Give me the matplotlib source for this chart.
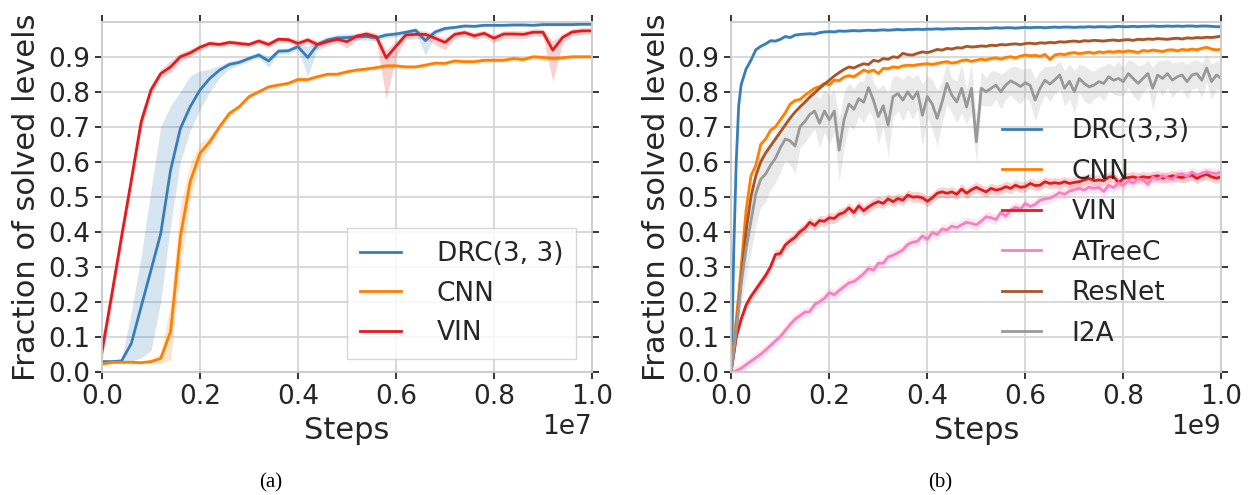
import matplotlib
matplotlib.use("Agg")
import matplotlib.pyplot as plt
import numpy as np

# ---------------- panel (a): steps in units of 1e7 ----------------
steps_a = np.round(np.arange(0, 1.0001, 0.02), 2)

drc_a = [0.029, 0.029, 0.031, 0.081, 0.186, 0.29, 0.395, 0.576, 0.695, 0.757,
         0.805, 0.838, 0.862, 0.878, 0.884, 0.895, 0.905, 0.888, 0.916, 0.917,
         0.929, 0.898, 0.935, 0.948, 0.954, 0.955, 0.957, 0.958, 0.954, 0.962,
         0.965, 0.97, 0.976, 0.946, 0.971, 0.981, 0.984, 0.988, 0.987, 0.99,
         0.99, 0.99, 0.991, 0.991, 0.99, 0.992, 0.992, 0.992, 0.992, 0.993, 0.993]
drc_a_lo = [0.025, 0.025, 0.027, 0.03, 0.04, 0.06, 0.2, 0.42, 0.6, 0.69,
            0.75, 0.8, 0.84, 0.866, 0.876, 0.887, 0.897, 0.87, 0.908, 0.909,
            0.92, 0.845, 0.925, 0.94, 0.944, 0.945, 0.947, 0.948, 0.944, 0.954,
            0.957, 0.962, 0.968, 0.905, 0.962, 0.975, 0.979, 0.983, 0.982, 0.986,
            0.986, 0.986, 0.987, 0.987, 0.986, 0.988, 0.988, 0.988, 0.988, 0.989, 0.989]
drc_a_hi = [0.033, 0.033, 0.035, 0.17, 0.33, 0.52, 0.70, 0.76, 0.80, 0.845,
            0.86, 0.865, 0.875, 0.888, 0.892, 0.903, 0.913, 0.9, 0.924, 0.925,
            0.937, 0.93, 0.945, 0.957, 0.964, 0.965, 0.967, 0.968, 0.964, 0.97,
            0.972, 0.977, 0.982, 0.965, 0.978, 0.986, 0.988, 0.992, 0.991, 0.994,
            0.994, 0.994, 0.995, 0.995, 0.994, 0.996, 0.996, 0.996, 0.996, 0.997, 0.997]

cnn_a = [0.022, 0.027, 0.027, 0.027, 0.026, 0.029, 0.038, 0.114, 0.386, 0.543,
         0.624, 0.657, 0.70, 0.738, 0.757, 0.786, 0.80, 0.814, 0.819, 0.824,
         0.835, 0.835, 0.843, 0.85, 0.85, 0.857, 0.862, 0.865, 0.869, 0.874,
         0.874, 0.871, 0.871, 0.876, 0.882, 0.881, 0.888, 0.886, 0.886, 0.89,
         0.89, 0.89, 0.895, 0.892, 0.9, 0.898, 0.895, 0.897, 0.9, 0.9, 0.9]
cnn_a_spread = [0.004, 0.004, 0.004, 0.004, 0.004, 0.006, 0.015, 0.08, 0.09, 0.05,
                0.03, 0.015, 0.01, 0.01, 0.006, 0.006, 0.006, 0.006, 0.006, 0.006,
                0.006, 0.006, 0.006, 0.006, 0.006, 0.006, 0.006, 0.006, 0.006, 0.006,
                0.006, 0.006, 0.006, 0.006, 0.006, 0.006, 0.006, 0.006, 0.006, 0.006,
                0.006, 0.006, 0.006, 0.006, 0.006, 0.009, 0.006, 0.006, 0.006, 0.006, 0.006]

vin_a = [0.057, 0.22, 0.386, 0.548, 0.714, 0.805, 0.852, 0.871, 0.90, 0.911,
         0.927, 0.938, 0.935, 0.941, 0.938, 0.935, 0.945, 0.935, 0.95, 0.949,
         0.938, 0.948, 0.935, 0.943, 0.95, 0.943, 0.959, 0.965, 0.957, 0.897,
         0.93, 0.962, 0.964, 0.964, 0.953, 0.941, 0.964, 0.969, 0.96, 0.967,
         0.953, 0.965, 0.965, 0.964, 0.97, 0.97, 0.919, 0.955, 0.971, 0.974, 0.974]
vin_a_lo = [0.03, 0.19, 0.36, 0.52, 0.69, 0.79, 0.84, 0.855, 0.888, 0.9,
            0.918, 0.93, 0.927, 0.932, 0.93, 0.927, 0.937, 0.925, 0.942, 0.94,
            0.928, 0.938, 0.92, 0.932, 0.94, 0.925, 0.948, 0.955, 0.945, 0.78,
            0.9, 0.95, 0.952, 0.952, 0.935, 0.92, 0.952, 0.958, 0.95, 0.956,
            0.94, 0.953, 0.953, 0.952, 0.96, 0.958, 0.83, 0.94, 0.96, 0.965, 0.965]
vin_a_hi = [0.09, 0.25, 0.41, 0.575, 0.74, 0.82, 0.865, 0.888, 0.912, 0.922,
            0.936, 0.946, 0.943, 0.949, 0.946, 0.943, 0.953, 0.945, 0.958, 0.957,
            0.948, 0.957, 0.945, 0.952, 0.958, 0.953, 0.968, 0.974, 0.967, 0.92,
            0.945, 0.972, 0.974, 0.974, 0.963, 0.955, 0.974, 0.978, 0.97, 0.976,
            0.963, 0.975, 0.975, 0.974, 0.98, 0.98, 0.945, 0.967, 0.98, 0.983, 0.983]

# ---------------- panel (b): steps in units of 1e9 ----------------
steps_b = np.round(np.concatenate([[0, 0.005, 0.01, 0.015],
                                   np.arange(0.02, 1.0001, 0.01)]), 3)

drc_b = [0.0, 0.35, 0.6, 0.76, 0.82, 0.865, 0.89, 0.92, 0.93, 0.937,
         0.946, 0.945, 0.95, 0.958, 0.955, 0.962, 0.964, 0.965, 0.966, 0.965,
         0.969, 0.971, 0.972, 0.971, 0.974, 0.973, 0.974,
         0.975, 0.974, 0.975, 0.976, 0.975, 0.976, 0.977, 0.976, 0.977, 0.978,
         0.977, 0.978, 0.978, 0.979, 0.978, 0.979, 0.979, 0.980, 0.979, 0.980,
         0.980, 0.981, 0.980, 0.981, 0.981, 0.981,
         0.982, 0.981, 0.982, 0.983, 0.982, 0.983, 0.983, 0.982, 0.983, 0.984,
         0.983, 0.984, 0.984, 0.983, 0.984, 0.985, 0.984, 0.985, 0.985, 0.984,
         0.985, 0.985, 0.986, 0.985, 0.986, 0.986, 0.985, 0.986, 0.987, 0.986,
         0.986, 0.987, 0.986, 0.987, 0.987, 0.988, 0.987, 0.987, 0.988, 0.987,
         0.988, 0.987, 0.988, 0.988, 0.987, 0.988, 0.988, 0.987, 0.986, 0.986]

cnn_b = [0.005, 0.08, 0.15, 0.22, 0.30, 0.46, 0.56, 0.59, 0.65, 0.665,
         0.69, 0.70, 0.72, 0.74, 0.765, 0.775, 0.778, 0.79, 0.80, 0.81,
         0.815, 0.824, 0.82, 0.833, 0.832, 0.842, 0.846,
         0.843, 0.852, 0.862, 0.857, 0.862, 0.852, 0.867, 0.866, 0.871, 0.869,
         0.874, 0.876, 0.875, 0.877, 0.879, 0.88, 0.878, 0.881, 0.884, 0.886,
         0.882, 0.884, 0.889, 0.891, 0.887, 0.89,
         0.893, 0.891, 0.895, 0.897, 0.893, 0.898, 0.90, 0.897, 0.902, 0.905,
         0.903, 0.904, 0.901, 0.907, 0.892, 0.905, 0.908, 0.906, 0.91, 0.912,
         0.909, 0.911, 0.913, 0.91, 0.914, 0.912, 0.915, 0.913, 0.916, 0.914,
         0.917, 0.915, 0.912, 0.918, 0.916, 0.919, 0.917, 0.915, 0.919, 0.92,
         0.917, 0.921, 0.919, 0.922, 0.92, 0.924, 0.927, 0.922, 0.92, 0.921]

vin_b = [0.005, 0.05, 0.1, 0.125, 0.15, 0.19, 0.215, 0.235, 0.255, 0.275,
         0.30, 0.335, 0.338, 0.362, 0.374, 0.384, 0.40, 0.41, 0.427, 0.418,
         0.432, 0.43, 0.44, 0.438, 0.45, 0.455, 0.468,
         0.455, 0.474, 0.46, 0.471, 0.48, 0.486, 0.481, 0.494, 0.486, 0.495,
         0.49, 0.505, 0.499, 0.50, 0.497, 0.487, 0.497, 0.51, 0.514, 0.51,
         0.514, 0.507, 0.522, 0.51, 0.52, 0.527,
         0.52, 0.514, 0.524, 0.519, 0.522, 0.529, 0.524, 0.533, 0.527, 0.529,
         0.538, 0.532, 0.533, 0.543, 0.538, 0.54, 0.538, 0.543, 0.538, 0.541,
         0.543, 0.548, 0.552, 0.546, 0.548, 0.546, 0.556, 0.558, 0.54, 0.552,
         0.555, 0.557, 0.553, 0.557, 0.555, 0.557, 0.56, 0.553, 0.556, 0.56,
         0.557, 0.555, 0.558, 0.562, 0.552, 0.56, 0.564, 0.557, 0.553, 0.557]

atreec_b = [0.0, 0.0, 0.003, 0.006, 0.01, 0.02, 0.03, 0.04, 0.05, 0.062,
            0.075, 0.088, 0.10, 0.118, 0.135, 0.15, 0.16, 0.17, 0.172, 0.192,
            0.2, 0.21, 0.226, 0.22, 0.232, 0.243, 0.254,
            0.258, 0.268, 0.28, 0.295, 0.29, 0.31, 0.31, 0.328, 0.333, 0.34,
            0.348, 0.364, 0.37, 0.373, 0.388, 0.378, 0.398, 0.392, 0.408, 0.405,
            0.416, 0.412, 0.42, 0.427, 0.424, 0.42,
            0.43, 0.443, 0.44, 0.435, 0.455, 0.445, 0.462, 0.47, 0.465, 0.481,
            0.472, 0.478, 0.49, 0.494, 0.496, 0.503, 0.512, 0.507, 0.516, 0.52,
            0.524, 0.519, 0.528, 0.524, 0.527, 0.515, 0.533, 0.526, 0.54, 0.532,
            0.546, 0.538, 0.552, 0.548, 0.536, 0.556, 0.55, 0.56, 0.554, 0.55,
            0.562, 0.566, 0.557, 0.57, 0.562, 0.566, 0.571, 0.568, 0.566, 0.571]

resnet_b = [0.005, 0.06, 0.12, 0.19, 0.26, 0.40, 0.50, 0.56, 0.60, 0.625,
            0.645, 0.665, 0.685, 0.705, 0.725, 0.742, 0.757, 0.77, 0.785, 0.797,
            0.81, 0.822, 0.833, 0.845, 0.855, 0.864, 0.871,
            0.868, 0.875, 0.88, 0.878, 0.89, 0.887, 0.895, 0.893, 0.9, 0.898,
            0.91, 0.906, 0.905, 0.91, 0.914, 0.912, 0.916, 0.921, 0.919, 0.924,
            0.922, 0.926, 0.925, 0.93, 0.928, 0.929,
            0.931, 0.93, 0.933, 0.932, 0.935, 0.934, 0.936, 0.937, 0.935, 0.938,
            0.939, 0.937, 0.94, 0.939, 0.941, 0.94, 0.943, 0.942, 0.944, 0.945,
            0.943, 0.946, 0.945, 0.947, 0.946, 0.945, 0.947, 0.948, 0.946, 0.948,
            0.949, 0.947, 0.95, 0.949, 0.951, 0.95, 0.952, 0.951, 0.95, 0.952,
            0.953, 0.951, 0.954, 0.953, 0.955, 0.954, 0.956, 0.955, 0.957, 0.959]

i2a_b = [0.005, 0.06, 0.12, 0.18, 0.25, 0.35, 0.43, 0.51, 0.55, 0.565,
         0.59, 0.61, 0.64, 0.665, 0.66, 0.645, 0.70, 0.715, 0.735, 0.745,
         0.71, 0.745, 0.72, 0.745, 0.633, 0.72, 0.765,
         0.75, 0.78, 0.77, 0.812, 0.776, 0.729, 0.76, 0.705, 0.786, 0.795,
         0.776, 0.80, 0.78, 0.80, 0.733, 0.786, 0.765, 0.724, 0.77, 0.824,
         0.79, 0.771, 0.81, 0.757, 0.81, 0.657,
         0.81, 0.80, 0.81, 0.819, 0.80, 0.819, 0.831, 0.824, 0.815, 0.826,
         0.818, 0.776, 0.81, 0.833, 0.822, 0.834, 0.848, 0.81, 0.83, 0.80,
         0.838, 0.824, 0.814, 0.819, 0.829, 0.824, 0.843, 0.833, 0.838, 0.829,
         0.852, 0.838, 0.824, 0.838, 0.852, 0.81, 0.848, 0.838, 0.852, 0.833,
         0.843, 0.848, 0.829, 0.848, 0.852, 0.833, 0.868, 0.829, 0.848, 0.838]
i2a_spread = [0.0, 0.02, 0.04, 0.05, 0.06, 0.08, 0.09, 0.09, 0.08, 0.08,
              0.07, 0.07, 0.07, 0.06, 0.07, 0.08, 0.06, 0.06, 0.06, 0.05,
              0.07, 0.06, 0.07, 0.06, 0.09, 0.08, 0.06,
              0.06, 0.05, 0.06, 0.07, 0.05, 0.08, 0.06, 0.09, 0.06, 0.05,
              0.06, 0.05, 0.06, 0.05, 0.09, 0.06, 0.07, 0.08, 0.06, 0.06,
              0.05, 0.06, 0.07, 0.05, 0.07, 0.06,
              0.05, 0.04, 0.05, 0.04, 0.05, 0.04, 0.04, 0.05, 0.05, 0.04,
              0.05, 0.06, 0.05, 0.04, 0.05, 0.04, 0.04, 0.05, 0.05, 0.06,
              0.04, 0.05, 0.05, 0.04, 0.04, 0.05, 0.04, 0.04, 0.05, 0.04,
              0.04, 0.05, 0.05, 0.04, 0.04, 0.06, 0.04, 0.05, 0.04, 0.05,
              0.04, 0.04, 0.05, 0.04, 0.04, 0.05, 0.04, 0.05, 0.04, 0.04]

# half-widths of the shaded bands for the smoother curves in (b)
spread_b = {"DRC(3,3)": 0.004, "CNN": 0.006, "VIN": 0.015,
            "ATreeC": 0.015, "ResNet": 0.004}

C_BLUE, C_ORANGE, C_RED = "#377eb8", "#ff7f00", "#e41a1c"
C_PINK, C_BROWN, C_GREY = "#f781bf", "#a65628", "#999999"

FS_TICK = 19
FS_LABEL = 22
plt.rcParams.update({
    "font.family": "DejaVu Sans",
    "font.size": FS_TICK,
    "text.color": "#262626",
    "axes.labelcolor": "#262626",
    "xtick.color": "#262626",
    "ytick.color": "#262626",
})


def style_axes(ax, scale):
    ax.set_xlim(0, scale)
    ax.set_ylim(0, 1.0)
    ax.set_yticks(np.arange(0, 0.95, 0.1))
    ax.set_xticks(np.arange(0, 1.01, 0.2) * scale)
    ax.grid(True, color="#d6d6d6", linewidth=1.3)
    ax.set_axisbelow(True)
    for sp in ax.spines.values():
        sp.set_color("#cccccc")
        sp.set_linewidth(1.3)
    ax.tick_params(direction="out", length=5, width=1.3, labelsize=FS_TICK,
                   top=True, right=True, bottom=True, left=True)
    ax.set_xlabel("Steps", fontsize=FS_LABEL, labelpad=5)
    ax.set_ylabel("Fraction of solved levels", fontsize=FS_LABEL, labelpad=5)
    ax.xaxis.get_offset_text().set_fontsize(FS_TICK)


fig = plt.figure(figsize=(12.51, 4.95), dpi=100)
ax_a = fig.add_axes([0.0815, 0.249, 0.3917, 0.707])
ax_b = fig.add_axes([0.5846, 0.249, 0.3917, 0.707])

# panel (a)
xa = steps_a * 1e7
ax_a.fill_between(xa, drc_a_lo, drc_a_hi, color=C_BLUE, alpha=0.2, lw=0)
ax_a.plot(xa, drc_a, color=C_BLUE, lw=2, label="DRC(3, 3)")
cnn_a_arr = np.array(cnn_a)
cnn_a_s = np.array(cnn_a_spread)
ax_a.fill_between(xa, cnn_a_arr - cnn_a_s, cnn_a_arr + cnn_a_s,
                  color=C_ORANGE, alpha=0.2, lw=0)
ax_a.plot(xa, cnn_a, color=C_ORANGE, lw=2, label="CNN")
ax_a.fill_between(xa, vin_a_lo, vin_a_hi, color=C_RED, alpha=0.2, lw=0)
ax_a.plot(xa, vin_a, color=C_RED, lw=2, label="VIN")
style_axes(ax_a, 1e7)
leg_a = ax_a.legend(loc="upper left", bbox_to_anchor=(0.5, 0.41),
                    borderaxespad=0, fontsize=FS_TICK, handlelength=1.55,
                    handletextpad=1.35, labelspacing=0.5, borderpad=0.5,
                    frameon=True, fancybox=False)
leg_a.get_frame().set_edgecolor("#cccccc")
leg_a.get_frame().set_linewidth(1.0)

# panel (b)
xb = steps_b * 1e9
series_b = [("DRC(3,3)", drc_b, C_BLUE), ("CNN", cnn_b, C_ORANGE),
            ("VIN", vin_b, C_RED), ("ATreeC", atreec_b, C_PINK),
            ("ResNet", resnet_b, C_BROWN)]
for name, vals, col in series_b:
    v = np.array(vals)
    s = spread_b[name]
    ax_b.fill_between(xb, v - s, v + s, color=col, alpha=0.2, lw=0)
    ax_b.plot(xb, v, color=col, lw=2, label=name)
i2a_arr = np.array(i2a_b)
i2a_s = np.array(i2a_spread)
ax_b.fill_between(xb, i2a_arr - i2a_s, i2a_arr + i2a_s,
                  color=C_GREY, alpha=0.2, lw=0)
ax_b.plot(xb, i2a_b, color=C_GREY, lw=2, label="I2A")
style_axes(ax_b, 1e9)
ax_b.legend(loc="upper left", bbox_to_anchor=(0.53, 0.755), borderaxespad=0,
            fontsize=FS_TICK, handlelength=1.5, handletextpad=1.15,
            labelspacing=0.55, frameon=False)

fig.text(0.2166, 0.006, "(a)", family="Liberation Serif", fontsize=15,
         ha="center", va="bottom", color="black")
fig.text(0.7515, 0.006, "(b)", family="Liberation Serif", fontsize=15,
         ha="center", va="bottom", color="black")

fig.savefig("out.png", dpi=100)
